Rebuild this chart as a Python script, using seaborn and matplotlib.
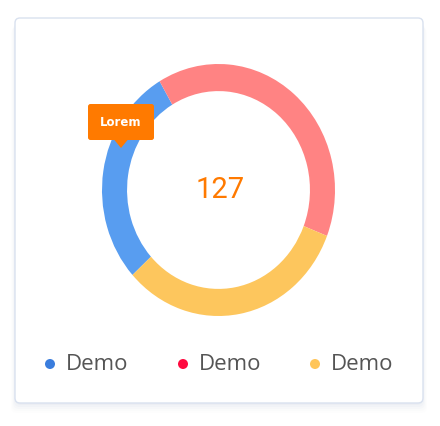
import matplotlib
matplotlib.use("Agg")
import matplotlib.pyplot as plt
from matplotlib.patches import FancyBboxPatch, Polygon, Circle
import seaborn as sns

# ---- data ----
labels = ["Demo", "Demo", "Demo"]
values = [36, 50, 41]          # blue, red, yellow (sum = 127)
ring_colors = ["#589DF0", "#FF8383", "#FDC65D"]
legend_colors = ["#3A7DDD", "#FF0A3F", "#FFC559"]
center_label = "127"
tooltip_label = "Lorem"

sns.set_theme(style="white")
plt.rcParams["font.family"] = ["Open Sans", "DejaVu Sans"]

W, H = 440, 426
fig = plt.figure(figsize=(W / 100, H / 100), dpi=100)
fig.patch.set_facecolor("white")

# background / card axes in pixel coords
bg = fig.add_axes([0, 0, 1, 1], zorder=0)
bg.set_xlim(0, W)
bg.set_ylim(H, 0)
bg.axis("off")

# soft shadow
for i, a in enumerate([0.05, 0.04, 0.03, 0.02, 0.015]):
    off = 2 + i * 2
    bg.add_patch(FancyBboxPatch((15 - i, 18 + off), 408 + 2 * i, 385,
                                boxstyle="round,pad=0,rounding_size=6",
                                facecolor="#8a9bbd", edgecolor="none", alpha=a))
bg.add_patch(FancyBboxPatch((15, 18), 408, 385,
                            boxstyle="round,pad=0,rounding_size=5",
                            facecolor="white", edgecolor="#d9e1ef", linewidth=1.0))

# donut
cx, cy, rx, ry = 218.5, 190, 116.5, 126
pax = fig.add_axes([(cx - rx) / W, (H - cy - ry) / H, 2 * rx / W, 2 * ry / H], zorder=1)
pax.pie(values, colors=ring_colors, startangle=90 - 227.6, counterclock=False,
        wedgeprops=dict(width=0.215, edgecolor="none", linewidth=0))
pax.set_aspect("auto")
pax.set_xlim(-1, 1)
pax.set_ylim(-1, 1)
pax.axis("off")

# overlay axes
ov = fig.add_axes([0, 0, 1, 1], zorder=2)
ov.set_xlim(0, W)
ov.set_ylim(H, 0)
ov.axis("off")
ov.patch.set_alpha(0)

ov.text(220, 190, center_label, color="#FF7A00", fontsize=21, fontweight="normal",
        family=["Roboto", "DejaVu Sans"], ha="center", va="center")

# tooltip
ov.add_patch(FancyBboxPatch((88, 104), 66, 36, boxstyle="round,pad=0,rounding_size=2.5",
                            facecolor="#FF7A00", edgecolor="none"))
ov.add_patch(Polygon([(114, 139.5), (128, 139.5), (121, 148)], closed=True,
                     facecolor="#FF7A00", edgecolor="none"))
ov.text(121, 122, tooltip_label, color="white", fontsize=8.5, fontweight="bold",
        family=["DejaVu Sans"], ha="center", va="center")

# legend
dot_x = [50, 183, 315]
for x, c, lab in zip(dot_x, legend_colors, labels):
    ov.add_patch(Circle((x, 364), 5, facecolor=c, edgecolor="none"))
    ov.text(x + 16, 364.5, lab, color="#555555", fontsize=16, ha="left", va="center")

fig.savefig("out.png", dpi=100, facecolor="white")
